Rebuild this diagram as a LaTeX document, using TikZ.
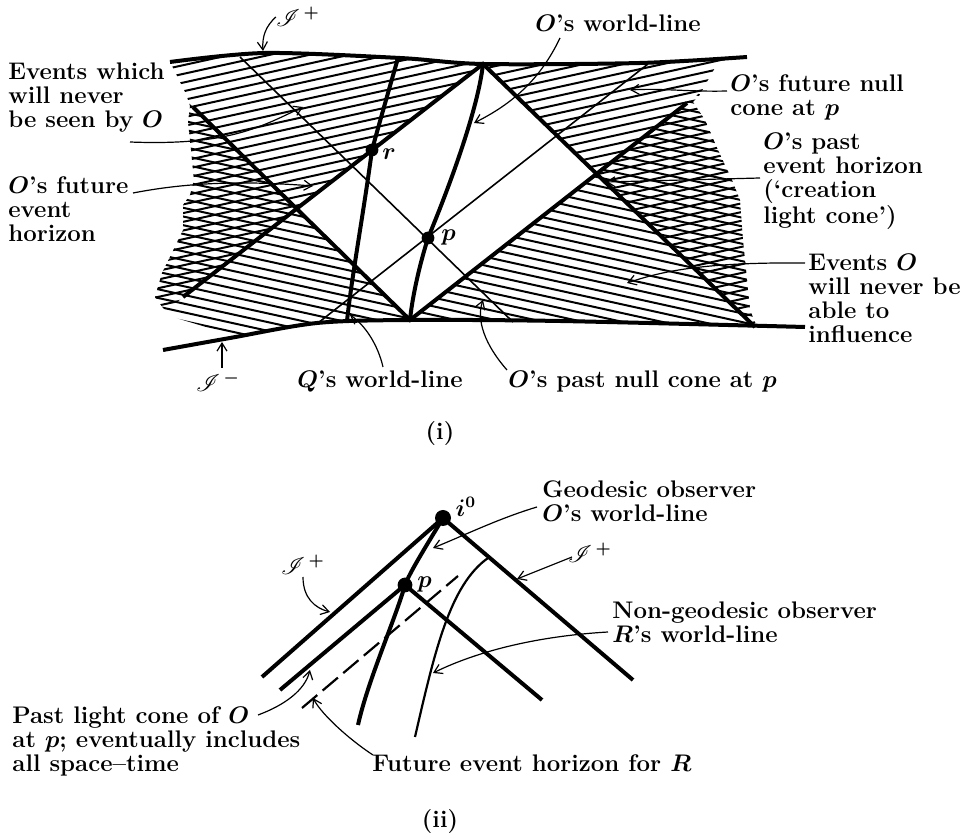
\documentclass[tikz,border=0pt]{standalone}
\usepackage{mathrsfs}
\usetikzlibrary{arrows.meta}
\tikzset{
  thickline/.style={line width=2pt},
  thinline/.style={line width=0.8pt},
  hatchline/.style={line width=1pt},
  leader/.style={line width=0.6pt,-{Straight Barb[length=4pt,width=5pt]}},
  event/.style={circle,fill,inner sep=0pt,minimum size=6.4pt},
  lbl/.style={font=\fontsize{12}{12}\selectfont\bfseries\boldmath,inner sep=0pt,align=left,anchor=base west},
  mlbl/.style={font=\fontsize{12}{12}\selectfont\bfseries\boldmath,inner sep=0pt},
}
\begin{document}
\begin{tikzpicture}[x=0.5pt,y=-0.5pt]
  \useasboundingbox (0,0) rectangle (966,839);

  % (i) de Sitter strip
  \coordinate (T) at (483,64);
  \coordinate (Bv) at (410,320);
  \coordinate (Aend) at (183,297);
  \coordinate (Bend) at (755,327);
  \coordinate (Cend) at (193,107);
  \coordinate (Dend) at (687,103);
  \coordinate (p) at (428,238);
  \coordinate (r) at (372,150);
  \coordinate (Qtop) at (398,58);
  \coordinate (Qbot) at (347,321);
  \coordinate (Etop) at (240,57);
  \coordinate (Ebot) at (513,322);
  \coordinate (Fbot) at (318,323);
  \coordinate (Ftop) at (648,64);

  % hatching
  \begin{scope}
    \clip plot[smooth] coordinates {(170,62) (265,53) (400,58) (483,64) (640,63) (747,57)}
      -- (716,66) -- (708,80) -- (699,96) -- (693,102) -- (705,120) -- (718,150)
      -- (732,180) -- (740,200) -- (743,240) -- (747,280) -- (750,310) -- (757,327)
      -- plot[smooth] coordinates {(757,327) (650,324) (560,321) (410,320) (317,323) (236,336)}
      -- (176,318) -- (163,308) -- (155,297) -- (162,273) -- (172,253) -- (183,230)
      -- (183,205) -- (190,195) -- (194,180) -- (191,150) -- (188,122) -- (190,106)
      -- (186,94) -- (180,82) -- (175,72) -- cycle;
    \begin{scope}
      \clip (100,362) -- (T) -- (850,419) -- (850,0) -- (100,0) -- cycle;
      \foreach \k in {0,...,56}
        \draw[hatchline] (100,40+8.7*\k) -- ++(700,-154);
    \end{scope}
    \begin{scope}
      \clip (100,16) -- (Bv) -- (850,-25) -- (850,420) -- (100,420) -- cycle;
      \foreach \k in {0,...,52}
        \draw[hatchline] (100,-115+8.7*\k) -- ++(700,154);
    \end{scope}
  \end{scope}

  % null cones at p
  \draw[thinline] (Etop) -- (Ebot);
  \draw[thinline] (Fbot) -- (Ftop);

  % horizons, scri and world-lines
  \draw[thickline] (Aend) -- (T) -- (Bend);
  \draw[thickline] (Cend) -- (Bv) -- (Dend);
  \draw[thickline] plot[smooth] coordinates {(170,62) (265,53) (400,58) (483,64) (640,63) (747,57)};
  \draw[thickline] plot[smooth] coordinates {(163,350) (230,338) (317,323) (410,320) (560,321) (805,327)};
  \draw[thickline] (T) .. controls (478,110) and (448,190) .. (p)
    .. controls (418,270) and (412,300) .. (Bv);
  \draw[thickline] (Qtop) .. controls (386,100) and (378,128) .. (r)
    .. controls (364,210) and (352,275) .. (Qbot);
  \node[event] (rdot) at (r) {};
  \node[event] (pdot) at (p) {};
  \node[lbl] (rlab) at (382,160) {$r$};
  \node[lbl] (plab) at (441,241) {$p$};

  % labels and leaders
  \node[mlbl] (scriplus) at (298,17) {$\mathscr{I}^{\,+}$};
  \coordinate (scriplusTip) at (263,51);
  \draw[leader] (scriplus.west) .. controls (266,26) and (262,36) .. (scriplusTip);

  \node[lbl] (neverseen) at (8,128) {Events which\\will never\\be seen by $O$};
  \coordinate (neverseenTail) at (130,142);
  \coordinate (neverseenTip) at (303,107);
  \draw[leader] (neverseenTail) .. controls (230,146) and (262,126) .. (neverseenTip);

  \node[lbl] (futurehor) at (8,242) {$O$'s future\\event\\horizon};
  \coordinate (futurehorTail) at (133,193);
  \coordinate (futurehorTip) at (313,186);
  \draw[leader] (futurehorTail) .. controls (200,180) and (260,182) .. (futurehorTip);

  \node[lbl] (Oworld) at (535,32) {$O$'s world-line};
  \coordinate (OworldTail) at (560,38);
  \coordinate (OworldTip) at (474,123);
  \draw[leader] (OworldTail) .. controls (540,80) and (512,104) .. (OworldTip);

  \node[lbl] (futnull) at (730,116) {$O$'s future null\\cone at $p$};
  \coordinate (futnullTail) at (727,91);
  \coordinate (futnullTip) at (630,90);
  \draw[leader] (futnullTail) .. controls (690,92) and (660,88) .. (futnullTip);

  \node[lbl] (pasthor) at (763,224) {$O$'s past\\event horizon\\(`creation\\light cone')};
  \coordinate (pasthorTail) at (760,178);
  \coordinate (pasthorTip) at (606,182);
  \draw[leader] (pasthorTail) -- (pasthorTip);

  \node[lbl] (neverinf) at (808,343) {Events $O$\\will never be\\able to\\influence};
  \coordinate (neverinfTail) at (805,263);
  \coordinate (neverinfTip) at (627,283);
  \draw[leader] (neverinfTail) .. controls (700,262) and (660,272) .. (neverinfTip);

  \node[lbl] (Qworld) at (297,388) {$Q$'s world-line};
  \coordinate (QworldTail) at (383,367);
  \coordinate (QworldTip) at (350,315);
  \draw[leader] (QworldTail) .. controls (378,345) and (365,325) .. (QworldTip);

  \node[lbl] (pastnull) at (508,388) {$O$'s past null cone at $p$};
  \coordinate (pastnullTail) at (507,370);
  \coordinate (pastnullTip) at (483,300);
  \draw[leader] (pastnullTail) .. controls (485,345) and (476,320) .. (pastnullTip);

  \node[mlbl] (scriminus) at (218,382) {$\mathscr{I}^{\,-}$};
  \coordinate (scriminusTail) at (222,368);
  \coordinate (scriminusTip) at (222,342);
  \draw[leader] (scriminusTail) -- (scriminusTip);

  \node[mlbl] (labi) at (440,434) {(i)};

  % (ii) observers in de Sitter
  \coordinate (izero) at (443,518);
  \coordinate (pp) at (405,585);
  \coordinate (Lend) at (262,677);
  \coordinate (Rend) at (633,680);
  \coordinate (Oend) at (358,725);
  \coordinate (pLend) at (280,690);
  \coordinate (pRend) at (542,700);
  \coordinate (hTop) at (458,576);
  \coordinate (hBot) at (302,708);
  \coordinate (Rbot) at (415,737);
  \coordinate (Rtop) at (488,558);

  \draw[thickline] (Lend) -- (izero) -- (Rend);
  \draw[thickline] (pLend) -- (pp) -- (pRend);
  \draw[thickline] (izero) .. controls (425,548) and (410,572) .. (pp)
    .. controls (395,620) and (368,680) .. (Oend);
  \draw[line width=1.1pt] (Rbot) .. controls (435,650) and (450,585) .. (Rtop);
  \draw[line width=1.1pt,dash pattern=on 10pt off 3.5pt] (hBot) -- (hTop);
  \node[event,minimum size=8pt] (izerodot) at (izero) {};
  \node[event,minimum size=7.4pt] (ppdot) at (pp) {};
  \node[mlbl] (izerolab) at (466,507) {$i^0$};
  \node[lbl] (pplab) at (417,588) {$p$};

  \node[lbl] (geod) at (542,522) {Geodesic observer\\$O$'s world-line};
  \coordinate (geodTail) at (537,507);
  \coordinate (geodTip) at (433,548);
  \draw[leader] (geodTail) .. controls (500,518) and (465,535) .. (geodTip);

  \node[mlbl] (scriR) at (590,553) {$\mathscr{I}^{\,+}$};
  \coordinate (scriRTail) at (572,557);
  \coordinate (scriRTip) at (517,579);
  \draw[leader] (scriRTail) -- (scriRTip);

  \node[mlbl] (scriL) at (303,565) {$\mathscr{I}^{\,+}$};
  \coordinate (scriLTail) at (303,577);
  \coordinate (scriLTip) at (330,612);
  \draw[leader] (scriLTail) .. controls (303,598) and (315,608) .. (scriLTip);

  \node[lbl] (nongeod) at (612,643) {Non-geodesic observer\\$R$'s world-line};
  \coordinate (nongeodTail) at (608,632);
  \coordinate (nongeodTip) at (433,673);
  \draw[leader] (nongeodTail) .. controls (540,636) and (480,650) .. (nongeodTip);

  \node[lbl] (pastcone) at (12,772) {Past light cone of $O$\\at $p$; eventually includes\\all space--time};
  \coordinate (pastconeTail) at (258,715);
  \coordinate (pastconeTip) at (310,670);
  \draw[leader] (pastconeTail) .. controls (285,705) and (305,690) .. (pastconeTip);

  \node[lbl] (futR) at (372,772) {Future event horizon for $R$};
  \coordinate (futRTail) at (373,755);
  \coordinate (futRTip) at (313,698);
  \draw[leader] (futRTail) .. controls (350,740) and (322,715) .. (futRTip);

  \node[mlbl] (labii) at (440,822) {(ii)};
\end{tikzpicture}
\end{document}
